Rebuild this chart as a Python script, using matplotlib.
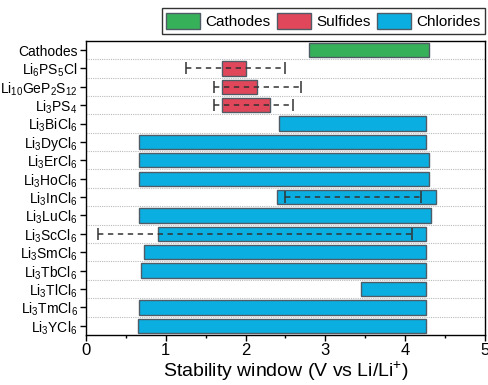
import numpy as np
import matplotlib
matplotlib.use('Agg')
import matplotlib.pyplot as plt
import matplotlib.ticker as mticker
from matplotlib.patches import Patch

plt.rcParams['font.family'] = 'Liberation Sans'
plt.rcParams['mathtext.fontset'] = 'custom'
plt.rcParams['mathtext.rm'] = 'Liberation Sans'
plt.rcParams['mathtext.it'] = 'Liberation Sans'

# materials, top to bottom
labels = ['Cathodes', r'Li$_6$PS$_5$Cl', r'Li$_{10}$GeP$_2$S$_{12}$', r'Li$_3$PS$_4$',
          r'Li$_3$BiCl$_6$', r'Li$_3$DyCl$_6$', r'Li$_3$ErCl$_6$', r'Li$_3$HoCl$_6$',
          r'Li$_3$InCl$_6$', r'Li$_3$LuCl$_6$', r'Li$_3$ScCl$_6$', r'Li$_3$SmCl$_6$',
          r'Li$_3$TbCl$_6$', r'Li$_3$TlCl$_6$', r'Li$_3$TmCl$_6$', r'Li$_3$YCl$_6$']
groups = ['Cathodes', 'Sulfides', 'Sulfides', 'Sulfides'] + ['Chlorides'] * 12
low = [2.80, 1.70, 1.70, 1.70, 2.42, 0.66, 0.67, 0.67, 2.40, 0.67, 0.90, 0.73, 0.69, 3.45, 0.66, 0.65]
high = [4.30, 2.01, 2.14, 2.31, 4.26, 4.26, 4.30, 4.30, 4.38, 4.32, 4.26, 4.26, 4.26, 4.26, 4.26, 4.26]

# dashed experimental windows
wh_names = [r'Li$_6$PS$_5$Cl', r'Li$_{10}$GeP$_2$S$_{12}$', r'Li$_3$PS$_4$', r'Li$_3$InCl$_6$', r'Li$_3$ScCl$_6$']
wh_low = [1.25, 1.60, 1.60, 2.50, 0.15]
wh_high = [2.50, 2.70, 2.60, 4.20, 4.08]

colors = {'Cathodes': '#37b159', 'Sulfides': '#e0475a', 'Chlorides': '#0aaee0'}

fig = plt.figure(figsize=(4.88, 3.85), dpi=100)
ax = fig.add_axes([0.176, 0.130, 0.818, 0.764])

y = np.arange(len(labels))
ax.barh(y, np.array(high) - np.array(low), left=low, height=0.78,
        color=[colors[g] for g in groups], edgecolor='#4f5c66', linewidth=1, zorder=2)

wy = [labels.index(n) for n in wh_names]
ax.hlines(wy, wh_low, wh_high, colors='#333333', linestyles=(0, (3.5, 3)), linewidth=1.1, zorder=3)
ax.plot(wh_low, wy, ls='none', marker='|', ms=8, mew=1.1, color='#333333', zorder=3)
ax.plot(wh_high, wy, ls='none', marker='|', ms=8, mew=1.1, color='#333333', zorder=3)

ax.set_yticks(y)
ax.set_yticklabels(labels, fontsize=10)
ax.set_ylim(len(labels) - 0.5, -0.5)
ax.yaxis.set_minor_locator(mticker.FixedLocator(y[:-1] + 0.5))
ax.grid(True, which='minor', axis='y', color='#bbbbbb', linestyle=(0, (1, 1)), linewidth=0.8, zorder=0)
ax.tick_params(axis='y', which='minor', length=0)
ax.tick_params(axis='y', which='major', direction='out', length=4, width=1, pad=2)

ax.set_xlim(0, 5)
ax.xaxis.set_major_locator(mticker.MultipleLocator(1))
ax.xaxis.set_minor_locator(mticker.MultipleLocator(0.5))
ax.tick_params(axis='x', which='major', direction='out', length=4, width=1, labelsize=12, pad=2)
ax.tick_params(axis='x', which='minor', direction='out', length=2.5, width=1)
ax.set_xlabel(r'Stability window (V vs Li/Li$^{+}$)', fontsize=14, labelpad=1)
for s in ax.spines.values():
    s.set_linewidth(1)

handles = [Patch(facecolor=colors[k], edgecolor='#4f5c66', linewidth=1, label=k)
           for k in ['Cathodes', 'Sulfides', 'Chlorides']]
leg = fig.legend(handles=handles, loc='upper right', bbox_to_anchor=(0.994, 0.978), ncol=3,
                 fontsize=11, frameon=True, fancybox=False, edgecolor='black',
                 handlelength=2.2, handleheight=1.2, handletextpad=0.35, columnspacing=0.45,
                 borderpad=0.3, borderaxespad=0)
leg.get_frame().set_linewidth(1)

fig.savefig('out.png', dpi=100)
